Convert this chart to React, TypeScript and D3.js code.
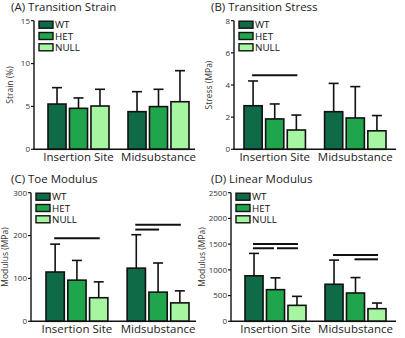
import React from "react";
import * as d3 from "d3";

// groups on the x axis and genotypes within each group
const groups = ["Insertion Site", "Midsubstance"];
const genotypes = ["WT", "HET", "NULL"];
const colors = ["#0f6b47", "#1fa64d", "#a6f5a0"];

// (A) transition strain, %
const strainMean = [[5.28, 4.78, 5.05], [4.39, 4.98, 5.55]];
const strainSD = [[1.91, 1.21, 1.95], [2.33, 2.02, 3.62]];
const strainTicks = [0, 5, 10, 15];

// (B) transition stress, MPa
const stressMean = [[2.71, 1.89, 1.2], [2.34, 1.95, 1.15]];
const stressSD = [[1.54, 0.93, 0.93], [1.76, 1.95, 0.95]];
const stressTicks = [0, 2, 4, 6, 8];
const stressSig = [{ g: 0, a: 0, b: 2, v: 4.6 }];

// (C) toe modulus, MPa
const toeMean = [[115, 96, 55], [124, 68, 43]];
const toeSD = [[65, 46, 37], [78, 68, 28]];
const toeTicks = [0, 100, 200, 300];
const toeSig = [
  { g: 0, a: 0, b: 2, v: 194 },
  { g: 1, a: 0, b: 2, v: 225 },
  { g: 1, a: 0, b: 1, v: 214 },
];

// (D) linear modulus, MPa
const linMean = [[885, 615, 310], [720, 550, 245]];
const linSD = [[435, 230, 175], [470, 300, 110]];
const linTicks = [0, 500, 1000, 1500, 2000, 2500];
const linSig = [
  { g: 0, a: 0, b: 2, v: 1505 },
  { g: 0, a: 0, b: 1, v: 1420 },
  { g: 0, a: 1, b: 2, v: 1420 },
  { g: 1, a: 0, b: 2, v: 1290 },
  { g: 1, a: 1, b: 2, v: 1205 },
];

const FONT = "'Open Sans', 'Noto Sans', sans-serif";

type Sig = { g: number; a: number; b: number; v: number };

interface PanelProps {
  title: string;
  yLabel: string;
  mean: number[][];
  sd: number[][];
  ticks: number[];
  sig: Sig[];
  ox: number;
  oy: number;
  axisX: number;
  baseEnd: number;
  barsFrom: number;
  barsTo: number;
  labelX: number;
}

const Panel: React.FC<PanelProps> = (p) => {
  const yTop = 20.7;
  const yBottom = 149.3;
  const y = d3
    .scaleLinear()
    .domain([0, p.ticks[p.ticks.length - 1]])
    .range([yBottom, yTop]);
  const xg = d3
    .scaleBand<string>()
    .domain(groups)
    .range([p.barsFrom, p.barsTo])
    .paddingInner(0.2375)
    .paddingOuter(0);
  const xs = d3
    .scaleBand<string>()
    .domain(genotypes)
    .range([0, xg.bandwidth()])
    .paddingInner(0.16)
    .paddingOuter(0);
  const cx = (g: number, s: number) =>
    (xg(groups[g]) ?? 0) + (xs(genotypes[s]) ?? 0) + xs.bandwidth() / 2;

  return (
    <g transform={`translate(${p.ox},${p.oy})`} fontFamily={FONT}>
      <text x={11} y={11} fontSize={11.5} fill="#222">
        {p.title}
      </text>
      <text
        transform={`translate(${p.labelX},${(yTop + yBottom) / 2}) rotate(-90)`}
        textAnchor="middle"
        fontSize={8.5}
        fill="#333"
      >
        {p.yLabel}
      </text>

      {/* bars with upper error whiskers */}
      {p.mean.map((row, gi) =>
        row.map((m, si) => {
          const x0 = (xg(groups[gi]) ?? 0) + (xs(genotypes[si]) ?? 0);
          const c = cx(gi, si);
          const top = y(m + p.sd[gi][si]);
          return (
            <g key={`${gi}-${si}`}>
              <line x1={c} x2={c} y1={y(m)} y2={top} stroke="#111" strokeWidth={1.6} />
              <line x1={c - 5} x2={c + 5} y1={top} y2={top} stroke="#111" strokeWidth={1.6} />
              <rect
                x={x0}
                y={y(m)}
                width={xs.bandwidth()}
                height={yBottom - y(m)}
                fill={colors[si]}
                stroke="#111"
                strokeWidth={1.6}
              />
            </g>
          );
        })
      )}

      {/* significance bars */}
      {p.sig.map((s, i) => {
        const shared = p.sig.some(
          (o) => o !== s && o.g === s.g && o.v === s.v && (o.a === s.b || o.b === s.a)
        );
        const x1 = cx(s.g, s.a) - 1 + (shared && s.a === 1 ? 2.5 : 0);
        const x2 = cx(s.g, s.b) + 1 - (shared && s.b === 1 ? 2.5 : 0);
        return (
          <line key={i} x1={x1} x2={x2} y1={y(s.v)} y2={y(s.v)} stroke="#111" strokeWidth={2} />
        );
      })}

      {/* axes */}
      <line x1={p.axisX} x2={p.axisX} y1={yTop} y2={yBottom} stroke="#111" strokeWidth={1.4} />
      <line x1={p.axisX} x2={p.baseEnd} y1={yBottom} y2={yBottom} stroke="#111" strokeWidth={1.4} />
      {p.ticks.map((t) => (
        <g key={t}>
          <line x1={p.axisX - 3} x2={p.axisX} y1={y(t)} y2={y(t)} stroke="#111" strokeWidth={1.2} />
          <text
            x={p.axisX - 4}
            y={y(t)}
            dy="0.35em"
            textAnchor="end"
            fontSize={8}
            fill="#333"
          >
            {t}
          </text>
        </g>
      ))}
      {groups.map((g) => (
        <text
          key={g}
          x={(xg(g) ?? 0) + xg.bandwidth() / 2}
          y={yBottom + 12}
          textAnchor="middle"
          fontSize={11.5}
          fill="#222"
        >
          {g}
        </text>
      ))}

      {/* legend */}
      {genotypes.map((gname, i) => (
        <g key={gname} transform={`translate(${p.axisX + 5},${yTop + 0.5 + i * 11.3})`}>
          <rect width={14} height={7} fill={colors[i]} stroke="#111" strokeWidth={1.4} />
          <text x={16} y={3.8} dy="0.35em" fontSize={9.8} fill="#111">
            {gname}
          </text>
        </g>
      ))}
    </g>
  );
};

export default function App() {
  return (
    <svg
      width={405}
      height={338}
      style={{ position: "absolute", left: 0, top: 0, background: "#fff" }}
    >
      <Panel
        title="(A) Transition Strain"
        yLabel="Strain (%)"
        mean={strainMean}
        sd={strainSD}
        ticks={strainTicks}
        sig={[]}
        ox={0}
        oy={0}
        axisX={34}
        baseEnd={195}
        barsFrom={48}
        barsTo={189}
        labelX={13}
      />
      <Panel
        title="(B) Transition Stress"
        yLabel="Stress (MPa)"
        mean={stressMean}
        sd={stressSD}
        ticks={stressTicks}
        sig={stressSig}
        ox={200}
        oy={0}
        axisX={34}
        baseEnd={196}
        barsFrom={44}
        barsTo={186}
        labelX={12}
      />
      <Panel
        title="(C) Toe Modulus"
        yLabel="Modulus (MPa)"
        mean={toeMean}
        sd={toeSD}
        ticks={toeTicks}
        sig={toeSig}
        ox={0}
        oy={172}
        axisX={31}
        baseEnd={196}
        barsFrom={46}
        barsTo={189}
        labelX={8}
      />
      <Panel
        title="(D) Linear Modulus"
        yLabel="Modulus (MPa)"
        mean={linMean}
        sd={linSD}
        ticks={linTicks}
        sig={linSig}
        ox={200}
        oy={172}
        axisX={31}
        baseEnd={196}
        barsFrom={45}
        barsTo={186}
        labelX={5}
      />
    </svg>
  );
}
